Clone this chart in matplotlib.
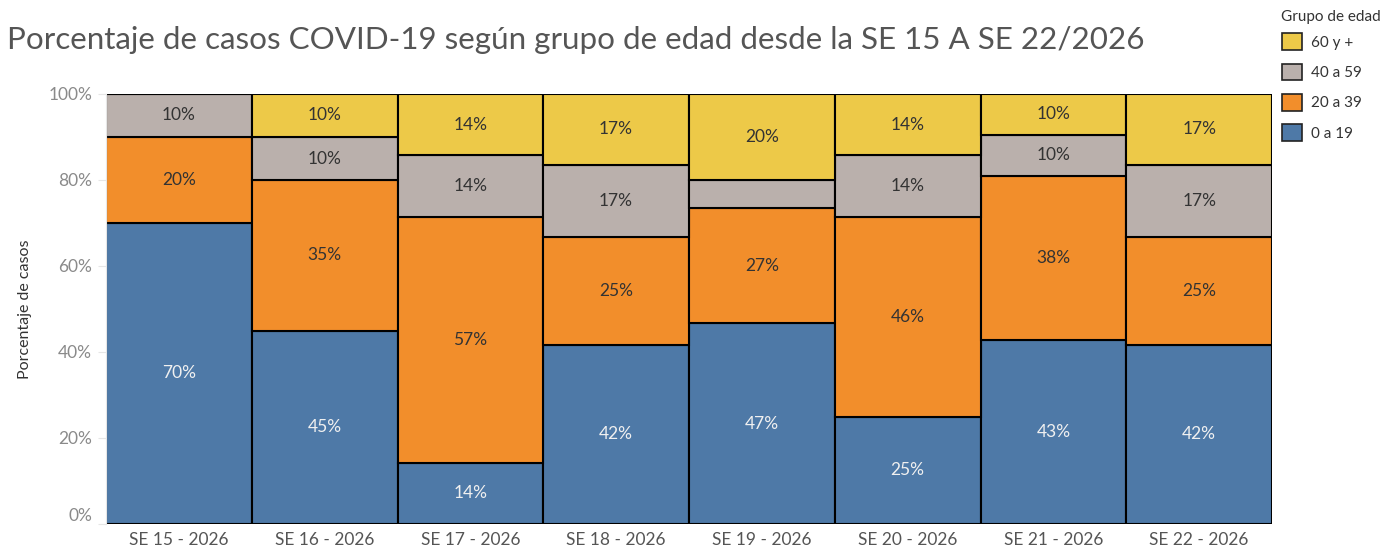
import matplotlib.pyplot as plt
from matplotlib.patches import Patch
import numpy as np

# Data (percent of cases per age group, per epidemiological week)
weeks = ['SE 15 - 2026', 'SE 16 - 2026', 'SE 17 - 2026', 'SE 18 - 2026',
         'SE 19 - 2026', 'SE 20 - 2026', 'SE 21 - 2026', 'SE 22 - 2026']
g0_19 = [70, 45, 14.3, 41.7, 46.7, 25, 42.9, 41.7]
g20_39 = [20, 35, 57.1, 25, 26.7, 46.4, 38.1, 25]
g40_59 = [10, 10, 14.3, 16.7, 6.7, 14.3, 9.5, 16.7]
g60 = [0, 10, 14.3, 16.7, 20, 14.3, 9.5, 16.7]

groups = ['0 a 19', '20 a 39', '40 a 59', '60 y +']
series = [g0_19, g20_39, g40_59, g60]
colors = ['#4E79A7', '#F28E2B', '#BAB0AC', '#EDC948']
text_colors = ['#F0F0F0', '#333333', '#333333', '#333333']

plt.rcParams['font.family'] = ['Lato', 'DejaVu Sans']

fig = plt.figure(figsize=(13.94, 5.54), dpi=100)
ax = fig.add_axes([106 / 1394, 30 / 554, 1166 / 1394, 430 / 554])

x = np.arange(len(weeks))
bottom = np.zeros(len(weeks))
for vals, col, tcol in zip(series, colors, text_colors):
    vals = np.array(vals)
    ax.bar(x, vals, width=1.0, bottom=bottom, color=col,
           edgecolor='black', linewidth=1.5)
    for xi, b, v in zip(x, bottom, vals):
        if v >= 8:
            ax.text(xi, b + v / 2, f'{round(v)}%', ha='center', va='center',
                    fontsize=12.5, color=tcol)
    bottom += vals

ax.set_xlim(-0.5, len(weeks) - 0.5)
ax.set_ylim(0, 100)
ax.set_yticks([0, 20, 40, 60, 80, 100])
ax.set_yticklabels(['0%', '20%', '40%', '60%', '80%', '100%'])
ax.set_xticks(x)
ax.set_xticklabels(weeks)
ax.tick_params(axis='y', colors='#e6e6e6', labelcolor='#8a8a8a', labelsize=12.5,
               length=6, pad=4)
ax.tick_params(axis='x', length=0, labelcolor='#555555', labelsize=12.5, pad=6)
for s in ['top', 'right', 'bottom']:
    ax.spines[s].set_visible(False)
ax.spines['left'].set_color('#e6e6e6')
# Tableau nudges the bottom label up to keep it inside the pane
ax.get_yticklabels()[0].set_verticalalignment('bottom')

ax.set_ylabel('Porcentaje de casos', fontsize=11.5, color='#333333', labelpad=12)

fig.text(7 / 1394, 1 - 40 / 554, 'Porcentaje de casos COVID-19 según grupo de edad desde la SE 15 A SE 22/2026',
         fontsize=22.6, color='#555555', ha='left', va='center')

# legend: title placed separately to match Tableau spacing
fig.text(1281 / 1394, 1 - 17 / 554, 'Grupo de edad', fontsize=11,
         color='#333333', ha='left', va='center')
handles = [Patch(facecolor=c, edgecolor='#222222', linewidth=1.2, label=g)
           for g, c in zip(groups, colors)][::-1]
leg = fig.legend(handles=handles, loc='upper left',
                 bbox_to_anchor=(1276 / 1394, 1 - 27 / 554), frameon=False,
                 fontsize=11, handlelength=1.3, handleheight=1.3,
                 handletextpad=0.6, labelspacing=0.9, borderaxespad=0)
for t in leg.get_texts():
    t.set_color('#333333')

fig.savefig('out.png', dpi=100)
